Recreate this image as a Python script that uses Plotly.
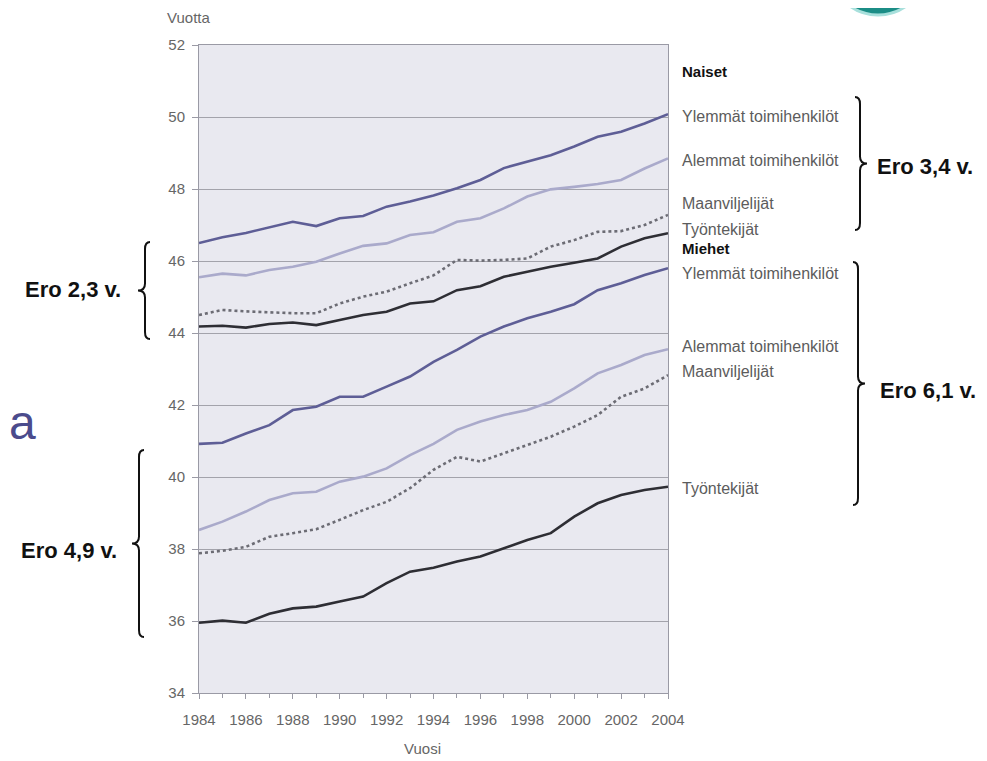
import plotly.graph_objects as go

years = list(range(1984, 2005))

naiset_ylemmat = [46.50, 46.66, 46.78, 46.93, 47.09, 46.97, 47.19, 47.25, 47.51, 47.65, 47.82,
                  48.02, 48.25, 48.58, 48.76, 48.94, 49.18, 49.45, 49.59, 49.82, 50.08]
naiset_alemmat = [45.55, 45.65, 45.60, 45.75, 45.84, 45.98, 46.21, 46.42, 46.49, 46.72, 46.80,
                  47.09, 47.19, 47.46, 47.79, 47.99, 48.06, 48.14, 48.25, 48.57, 48.85]
naiset_maanviljelijat = [44.50, 44.64, 44.60, 44.57, 44.55, 44.55, 44.82, 45.01, 45.15, 45.38, 45.60,
                         46.03, 46.01, 46.03, 46.07, 46.40, 46.58, 46.81, 46.83, 47.00, 47.28]
naiset_tyontekijat = [44.18, 44.20, 44.15, 44.25, 44.29, 44.22, 44.36, 44.50, 44.59, 44.82, 44.88,
                      45.19, 45.30, 45.56, 45.70, 45.84, 45.95, 46.07, 46.40, 46.63, 46.77]
miehet_ylemmat = [40.92, 40.95, 41.21, 41.44, 41.86, 41.95, 42.23, 42.23, 42.51, 42.79, 43.20,
                  43.53, 43.90, 44.18, 44.41, 44.59, 44.80, 45.19, 45.38, 45.61, 45.80]
miehet_alemmat = [38.53, 38.76, 39.04, 39.36, 39.55, 39.59, 39.87, 40.01, 40.24, 40.61, 40.92,
                  41.31, 41.54, 41.72, 41.86, 42.09, 42.46, 42.88, 43.11, 43.39, 43.55]
miehet_maanviljelijat = [37.88, 37.95, 38.06, 38.34, 38.44, 38.55, 38.81, 39.08, 39.31, 39.69, 40.20,
                         40.56, 40.43, 40.66, 40.89, 41.12, 41.40, 41.72, 42.23, 42.46, 42.83]
miehet_tyontekijat = [35.95, 36.01, 35.95, 36.20, 36.35, 36.40, 36.54, 36.68, 37.05, 37.37, 37.48,
                      37.65, 37.79, 38.02, 38.25, 38.44, 38.90, 39.27, 39.50, 39.64, 39.73]

x_tick_vals = list(range(1984, 2005, 2))
y_tick_vals = list(range(34, 53, 2))

# right-side labels: (text, y value, bold)
right_labels = [
    ("Naiset", 51.26, True),
    ("Ylemmät toimihenkilöt", 50.01, False),
    ("Alemmat toimihenkilöt", 48.79, False),
    ("Maanviljelijät", 47.60, False),
    ("Työntekijät", 46.88, False),
    ("Miehet", 46.36, True),
    ("Ylemmät toimihenkilöt", 45.66, False),
    ("Alemmat toimihenkilöt", 43.62, False),
    ("Maanviljelijät", 42.92, False),
    ("Työntekijät", 39.69, False),
]

ero_texts = ["Ero 3,4 v.", "Ero 6,1 v.", "Ero 2,3 v.", "Ero 4,9 v."]

# the page adds an 8px body margin: figure is placed at (8, 8)
OFF = 8
W, H = 987 - OFF, 761 - OFF
L, T = 199 - OFF, 45 - OFF
R = W - (668 - OFF)
B = H - (693 - OFF)
PW, PH = W - L - R, H - T - B


def px(xs):
    return (xs - OFF - L) / PW


def py(ys):
    return (H - B - (ys - OFF)) / PH


C_DARKP = "#5e5e96"
C_LIGHTP = "#aaaacb"
C_DARK = "#2e2e34"
C_DOT = "#6c6c74"
FONT = "Liberation Sans, Arial, sans-serif"

fig = go.Figure()
series = [
    (naiset_ylemmat, C_DARKP, "solid"),
    (naiset_alemmat, C_LIGHTP, "solid"),
    (naiset_maanviljelijat, C_DOT, "dot"),
    (naiset_tyontekijat, C_DARK, "solid"),
    (miehet_ylemmat, C_DARKP, "solid"),
    (miehet_alemmat, C_LIGHTP, "solid"),
    (miehet_maanviljelijat, C_DOT, "dot"),
    (miehet_tyontekijat, C_DARK, "solid"),
]
for vals, col, dash in series:
    fig.add_trace(go.Scatter(x=years, y=vals, mode="lines",
                             line=dict(color=col, width=2.6, dash=dash),
                             showlegend=False, hoverinfo="skip"))

annotations = []
for txt, yv, bold in right_labels:
    annotations.append(dict(
        x=px(680), xref="paper", y=yv, yref="y", xanchor="left", yanchor="middle",
        text=f"<b>{txt}</b>" if bold else txt, showarrow=False,
        font=dict(family=FONT, size=15 if bold else 16, color="#111" if bold else "#5c5c5c")))

ero_pos = [(875, 166, "left"), (878, 391, "left"), (123, 289, "right"), (119, 550, "right")]
for txt, (xs, ys, anc) in zip(ero_texts, ero_pos):
    annotations.append(dict(
        x=px(xs), xref="paper", y=py(ys), yref="paper", xanchor=anc, yanchor="middle",
        text=f"<b>{txt}</b>", showarrow=False,
        font=dict(family=FONT, size=22, color="#111")))

annotations.append(dict(x=px(188), xref="paper", y=py(17), yref="paper", xanchor="center",
                        yanchor="middle", text="Vuotta", showarrow=False,
                        font=dict(family=FONT, size=15, color="#666")))
annotations.append(dict(x=px(422), xref="paper", y=py(748), yref="paper", xanchor="center",
                        yanchor="middle", text="Vuosi", showarrow=False,
                        font=dict(family=FONT, size=15, color="#666")))
annotations.append(dict(x=px(22), xref="paper", y=py(422), yref="paper", xanchor="center",
                        yanchor="middle", text="a", showarrow=False,
                        font=dict(family=FONT, size=48, color="#4b4b8c")))


def brace(x0, yt, yb, direction):
    """direction=+1: '}' tip to the right; -1: '{' tip to the left. Screen pixel coords."""
    d = direction
    ym = (yt + yb) / 2
    e = 5 * d   # hook
    t = 7 * d   # tip
    r = 7
    pts = [
        f"M {px(x0 - e)},{py(yt)}",
        f"Q {px(x0)},{py(yt)} {px(x0)},{py(yt + r)}",
        f"L {px(x0)},{py(ym - r)}",
        f"Q {px(x0)},{py(ym)} {px(x0 + t)},{py(ym)}",
        f"Q {px(x0)},{py(ym)} {px(x0)},{py(ym + r)}",
        f"L {px(x0)},{py(yb - r)}",
        f"Q {px(x0)},{py(yb)} {px(x0 - e)},{py(yb)}",
    ]
    return dict(type="path", xref="paper", yref="paper", path=" ".join(pts),
                line=dict(color="#111", width=2))


shapes = [
    brace(860, 97, 230, 1),
    brace(858, 262, 505, 1),
    brace(145, 242, 339, -1),
    brace(139, 450, 637, -1),
    dict(type="circle", xref="paper", yref="paper",
         x0=px(830), x1=px(926), y0=py(15), y1=py(-80),
         fillcolor="#1b8d86", line=dict(color="#a8e0dc", width=3), layer="above"),
]

fig.update_layout(
    width=W, height=H,
    margin=dict(l=L, r=R, t=T, b=B),
    paper_bgcolor="white",
    plot_bgcolor="#e9e9f0",
    annotations=annotations,
    shapes=shapes,
    xaxis=dict(range=[1984, 2004], tickvals=x_tick_vals, ticktext=[str(v) for v in x_tick_vals],
               showgrid=False, zeroline=False, showline=True, linecolor="#9a9aa5", linewidth=1,
               mirror=True, ticks="outside", ticklen=5, tickcolor="#9a9aa5",
               minor=dict(dtick=1, ticks="outside", ticklen=4, tickcolor="#9a9aa5"),
               ticklabelstandoff=8,
               tickfont=dict(family=FONT, size=15, color="#666")),
    yaxis=dict(range=[34, 52], tickvals=y_tick_vals, showgrid=True, gridcolor="#a3a3ab",
               gridwidth=1.3, zeroline=False, showline=True, linecolor="#9a9aa5", linewidth=1,
               mirror=True, ticks="outside", ticklen=6, tickcolor="#9a9aa5",
               ticklabelstandoff=4,
               tickfont=dict(family=FONT, size=15, color="#666")),
)

fig.write_html("out.html")
